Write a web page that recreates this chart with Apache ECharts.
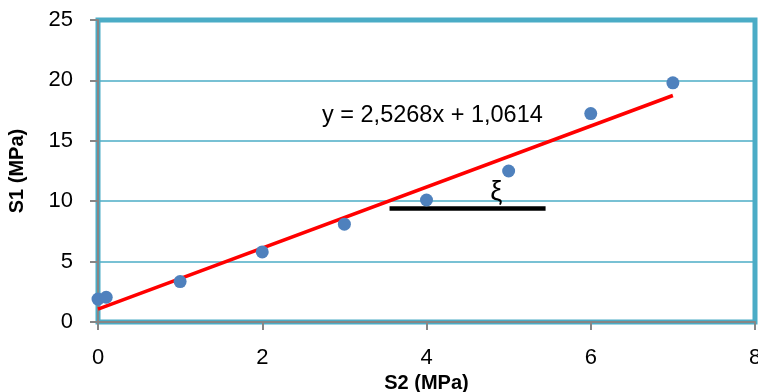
<!DOCTYPE html>
<html>
<head>
<meta charset="utf-8">
<script src="https://cdn.jsdelivr.net/npm/echarts@6/dist/echarts.min.js"></script>
<style>
  html, body { margin: 0; padding: 0; background: #ffffff; }
  #chart { width: 758px; height: 392px; }
</style>
</head>
<body>
<div id="chart"></div>
<script>
// Measured stress pairs: S2 (x) against S1 (y), both in MPa
const s2Values = [0, 0.1, 1, 2, 3, 4, 5, 6, 7];
const s1Values = [1.9, 2.05, 3.35, 5.8, 8.1, 10.1, 12.5, 17.25, 19.8];

// Linear fit stated on the chart
const fitSlope = 2.5268;
const fitIntercept = 1.0614;
const fitRange = [0, 7];
const fitLabel = 'y = 2,5268x + 1,0614';

// Reference bar marked with the symbol ξ
const xiBarX = [3.55, 5.45];
const xiBarY = 9.4;
const xiLabel = 'ξ';
const xiLabelAt = [4.85, 10.7];

const xTicks = [0, 2, 4, 6, 8];
const yTicks = [0, 5, 10, 15, 20, 25];

const FONT = '"Liberation Sans", Arial, sans-serif';
const TEAL = '#4bacc6';
const GREY = '#868686';

const points = s2Values.map((x, i) => [x, s1Values[i]]);
const fitLine = fitRange.map(x => [x, fitSlope * x + fitIntercept]);
const xiBar = xiBarX.map(x => [x, xiBarY]);

const chart = echarts.init(document.getElementById('chart'), null, { renderer: 'canvas' });

chart.setOption({
  animation: false,
  backgroundColor: '#ffffff',
  grid: {
    left: 98, right: 3, top: 20, bottom: 70,
    outerBoundsMode: 'none',
    containLabel: false,
    show: true,
    borderColor: TEAL,
    borderWidth: 5,
    backgroundColor: 'transparent'
  },
  xAxis: {
    type: 'value',
    min: xTicks[0], max: xTicks[xTicks.length - 1], interval: 2,
    name: 'S2 (MPa)',
    nameLocation: 'middle',
    nameGap: 47,
    nameTextStyle: { fontFamily: FONT, fontWeight: 'bold', fontSize: 20, color: '#000' },
    axisLine: { show: true, onZero: false, lineStyle: { color: GREY, width: 2 } },
    axisTick: { show: true, length: 8, lineStyle: { color: GREY, width: 2 } },
    axisLabel: { fontFamily: FONT, fontSize: 22, color: '#000', margin: 25 },
    splitLine: { show: false }
  },
  yAxis: {
    type: 'value',
    min: yTicks[0], max: yTicks[yTicks.length - 1], interval: 5,
    name: 'S1 (MPa)',
    nameLocation: 'middle',
    nameGap: 71,
    nameRotate: 90,
    nameTextStyle: { fontFamily: FONT, fontWeight: 'bold', fontSize: 20, color: '#000' },
    axisLine: { show: true, onZero: false, lineStyle: { color: GREY, width: 2 } },
    axisTick: { show: true, length: 8, lineStyle: { color: GREY, width: 2 } },
    axisLabel: { fontFamily: FONT, fontSize: 22, color: '#000', margin: 25 },
    splitLine: { show: true, lineStyle: { color: TEAL, width: 1.5 } }
  },
  series: [
    {
      name: 'fit',
      type: 'line',
      data: fitLine,
      symbol: 'none',
      lineStyle: { color: '#ff0000', width: 3.5 },
      z: 3
    },
    {
      name: 'xi',
      type: 'line',
      data: xiBar,
      symbol: 'none',
      lineStyle: { color: '#000000', width: 4.5 },
      markPoint: {
        symbol: 'rect',
        symbolSize: 1,
        itemStyle: { color: 'transparent' },
        label: {
          show: true,
          position: 'inside',
          formatter: xiLabel,
          fontFamily: FONT,
          fontSize: 27,
          color: '#000'
        },
        data: [{ coord: xiLabelAt }]
      },
      z: 4
    },
    {
      name: 'data',
      type: 'scatter',
      data: points,
      symbol: 'circle',
      symbolSize: 13,
      itemStyle: { color: '#4f81bd', opacity: 1 },
      z: 5
    }
  ],
  graphic: [
    {
      type: 'text',
      left: 322,
      top: 104,
      style: {
        text: fitLabel,
        font: '23.5px ' + FONT,
        fill: '#000'
      }
    }
  ]
});
</script>
</body>
</html>
